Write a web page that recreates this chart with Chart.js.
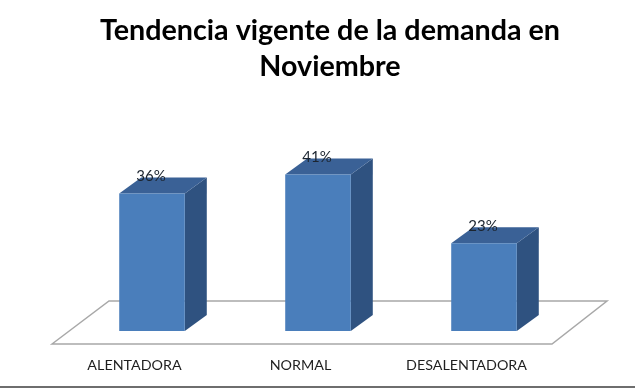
<!DOCTYPE html>
<html>
<head>
<meta charset="utf-8">
<style>html,body{margin:0;padding:0;background:#fff}#w{position:relative;width:635px;height:389px}canvas{display:block;filter:blur(0.5px)}</style>
<script src="https://cdn.jsdelivr.net/npm/chart.js@4"></script>
</head>
<body>
<div id="w"><canvas id="c" width="635" height="389"></canvas></div>
<script>
const categories = ['ALENTADORA', 'NORMAL', 'DESALENTADORA'];
const shares = [36, 41, 23];
const titleLines = ['Tendencia vigente de la demanda en', 'Noviembre'];

const depthX = 22, depthY = 16;

const scene3d = {
  id: 'scene3d',
  afterLayout(chart) {
    chart.titleBlock.left = chart.chartArea.left + 24;
  },
  beforeDatasetsDraw(chart) {
    const { ctx, chartArea: a } = chart;
    const base = chart.scales.y.getPixelForValue(0);
    ctx.save();
    ctx.strokeStyle = '#a8a8a8';
    ctx.lineWidth = 1.5;
    ctx.fillStyle = '#ffffff';
    ctx.beginPath();
    ctx.moveTo(a.left - 17, base + 13);
    ctx.lineTo(a.left + 40, base - 30);
    ctx.lineTo(a.right + 40, base - 30);
    ctx.lineTo(a.right - 15, base + 13);
    ctx.closePath();
    ctx.fill();
    ctx.stroke();
    chart.getDatasetMeta(0).data.forEach(b => {
      const l = b.x - b.width / 2, r = b.x + b.width / 2;
      ctx.fillStyle = '#2f5280';
      ctx.beginPath();
      ctx.moveTo(r, b.y);
      ctx.lineTo(r + depthX, b.y - depthY);
      ctx.lineTo(r + depthX, b.base - depthY);
      ctx.lineTo(r, b.base);
      ctx.closePath();
      ctx.fill();
      ctx.fillStyle = '#3a6196';
      ctx.beginPath();
      ctx.moveTo(l, b.y);
      ctx.lineTo(l + depthX, b.y - depthY);
      ctx.lineTo(r + depthX, b.y - depthY);
      ctx.lineTo(r, b.y);
      ctx.closePath();
      ctx.fill();
    });
    ctx.restore();
  },
  afterDatasetsDraw(chart) {
    const { ctx } = chart;
    ctx.save();
    ctx.font = '15px Lato';
    ctx.fillStyle = '#1c2530';
    ctx.textAlign = 'center';
    ctx.textBaseline = 'middle';
    chart.getDatasetMeta(0).data.forEach((b, i) => {
      ctx.fillText(shares[i] + '%', b.x - 1, b.y - 17);
    });
    ctx.restore();
  },
  afterDraw(chart) {
    const { ctx, width, height } = chart;
    ctx.save();
    ctx.strokeStyle = '#6e6e6e';
    ctx.lineWidth = 2;
    ctx.beginPath();
    ctx.moveTo(0, height - 2);
    ctx.lineTo(width, height - 2);
    ctx.stroke();
    ctx.restore();
  }
};

new Chart(document.getElementById('c'), {
  type: 'bar',
  data: {
    labels: categories,
    datasets: [{
      data: shares,
      backgroundColor: '#4a7ebb',
      barPercentage: 1,
      categoryPercentage: 0.395
    }]
  },
  options: {
    responsive: false,
    animation: false,
    layout: { padding: { left: 69, right: 68, top: 0, bottom: 0 } },
    plugins: {
      legend: { display: false },
      tooltip: { enabled: false },
      title: {
        display: true,
        text: titleLines,
        color: '#000000',
        font: { family: 'Lato', size: 28.7, weight: 'bold', lineHeight: 36 / 28.7 },
        padding: { top: 13, bottom: 55 }
      }
    },
    scales: {
      x: {
        grid: { display: false, drawTicks: false },
        border: { display: false },
        ticks: { color: '#1f1f1f', font: { family: 'Lato', size: 14.3 }, padding: 26, maxRotation: 0, labelOffset: -17.5 },
        afterFit(s) { s.height = 58; }
      },
      y: { display: false, min: 0, max: 50 }
    }
  },
  plugins: [scene3d]
});
</script>
</body>
</html>
